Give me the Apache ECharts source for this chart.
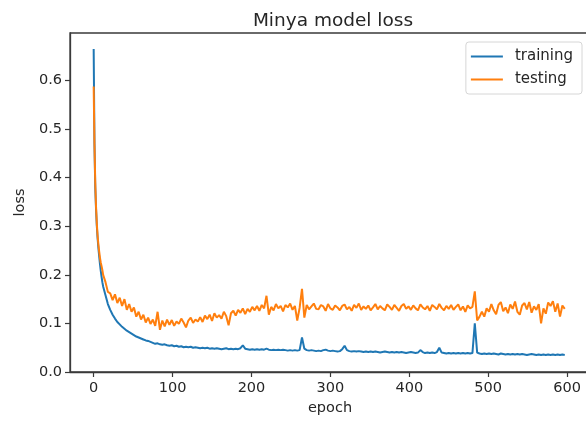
<!DOCTYPE html>
<html>
<head>
<meta charset="utf-8">
<script src="https://cdn.jsdelivr.net/npm/echarts@6/dist/echarts.min.js"></script>
<style>
html,body{margin:0;padding:0;background:#fff;}
#chart{width:586px;height:423px;}
</style>
</head>
<body>
<div id="chart"></div>
<script>
// ---- data ----
const title = 'Minya model loss';
const seriesNames = ['training', 'testing'];
const xTicks = [0, 100, 200, 300, 400, 500, 600];
const yTicks = [0.0, 0.1, 0.2, 0.3, 0.4, 0.5, 0.6];

// epochs 0..12 (every epoch)
const trainEarly = [0.665, 0.47, 0.38, 0.335, 0.30, 0.275, 0.255, 0.238, 0.222, 0.208, 0.196, 0.185, 0.176];
const testEarly  = [0.588, 0.47, 0.39, 0.34, 0.305, 0.28, 0.262, 0.248, 0.235, 0.225, 0.218, 0.21, 0.20];

// epochs 15, 18, 21 ... 597 (every 3rd epoch)
const trainLate = [
  0.158, 0.140, 0.128, 0.118, 0.110, 0.103, 0.098, 0.093, 0.089, 0.085,
  0.082, 0.079, 0.076, 0.073, 0.071, 0.069, 0.067, 0.065, 0.064, 0.062,
  0.060, 0.058, 0.059, 0.057, 0.056, 0.057, 0.055, 0.054, 0.055, 0.053,
  0.054, 0.052, 0.053, 0.051, 0.052, 0.051, 0.052, 0.050, 0.051, 0.050,
  0.049, 0.050, 0.049, 0.050, 0.048, 0.049, 0.048, 0.049, 0.048, 0.047,
  0.048, 0.049, 0.047, 0.048, 0.047, 0.048, 0.047, 0.049, 0.055, 0.048,
  0.047, 0.046, 0.047, 0.046, 0.047, 0.046, 0.047, 0.046, 0.048, 0.046,
  0.045, 0.046, 0.045, 0.046, 0.045, 0.046, 0.045, 0.044, 0.045, 0.044,
  0.045, 0.044, 0.045, 0.071, 0.048, 0.045, 0.044, 0.045, 0.044, 0.043,
  0.044, 0.043, 0.045, 0.046, 0.044, 0.043, 0.044, 0.043, 0.042, 0.043,
  0.047, 0.054, 0.045, 0.043, 0.042, 0.043, 0.042, 0.043, 0.042, 0.041,
  0.042, 0.041, 0.042, 0.041, 0.042, 0.041, 0.040, 0.041, 0.042, 0.041,
  0.040, 0.041, 0.040, 0.041, 0.040, 0.041, 0.040, 0.039, 0.040, 0.041,
  0.040, 0.039, 0.040, 0.045, 0.041, 0.039, 0.040, 0.039, 0.040, 0.039,
  0.041, 0.050, 0.040, 0.039, 0.038, 0.039, 0.038, 0.039, 0.038, 0.039,
  0.038, 0.039, 0.038, 0.039, 0.038, 0.039, 0.100, 0.040, 0.038, 0.037,
  0.038, 0.037, 0.038, 0.037, 0.038, 0.037, 0.036, 0.038, 0.037, 0.036,
  0.037, 0.036, 0.037, 0.036, 0.037, 0.036, 0.037, 0.036, 0.035, 0.036,
  0.037, 0.036, 0.035, 0.036, 0.035, 0.036, 0.035, 0.036, 0.035, 0.036,
  0.035, 0.036, 0.035, 0.036, 0.035
];
const testLate = [
  0.185, 0.165, 0.162, 0.148, 0.160, 0.142, 0.153, 0.136, 0.150, 0.128,
  0.140, 0.124, 0.133, 0.114, 0.124, 0.108, 0.118, 0.102, 0.112, 0.099,
  0.108, 0.095, 0.124, 0.087, 0.106, 0.094, 0.108, 0.097, 0.107, 0.095,
  0.104, 0.099, 0.110, 0.102, 0.092, 0.106, 0.112, 0.101, 0.108, 0.104,
  0.113, 0.103, 0.116, 0.109, 0.118, 0.105, 0.121, 0.112, 0.117, 0.110,
  0.124, 0.115, 0.096, 0.121, 0.126, 0.116, 0.128, 0.122, 0.131, 0.119,
  0.130, 0.124, 0.134, 0.127, 0.136, 0.126, 0.138, 0.131, 0.157, 0.118,
  0.134, 0.127, 0.140, 0.131, 0.136, 0.125, 0.138, 0.133, 0.141, 0.128,
  0.136, 0.106, 0.132, 0.171, 0.112, 0.138, 0.129, 0.135, 0.141, 0.130,
  0.129, 0.138, 0.135, 0.126, 0.140, 0.131, 0.128, 0.137, 0.133, 0.127,
  0.136, 0.139, 0.129, 0.134, 0.126, 0.138, 0.132, 0.141, 0.128, 0.135,
  0.130, 0.137, 0.127, 0.133, 0.140, 0.129, 0.136, 0.131, 0.127, 0.139,
  0.134, 0.128, 0.138, 0.132, 0.126, 0.136, 0.140, 0.130, 0.135, 0.128,
  0.137, 0.131, 0.127, 0.139, 0.133, 0.129, 0.136, 0.126, 0.138, 0.134,
  0.129, 0.140, 0.132, 0.127, 0.136, 0.130, 0.138, 0.128, 0.134, 0.139,
  0.127, 0.135, 0.124, 0.137, 0.131, 0.134, 0.166, 0.106, 0.114, 0.124,
  0.114, 0.131, 0.124, 0.140, 0.127, 0.119, 0.138, 0.144, 0.125, 0.133,
  0.121, 0.139, 0.130, 0.145, 0.124, 0.118, 0.137, 0.142, 0.129, 0.144,
  0.122, 0.135, 0.128, 0.140, 0.100, 0.131, 0.120, 0.143, 0.136, 0.146,
  0.124, 0.141, 0.114, 0.137, 0.130
];

// ---- build [epoch, value] pairs ----
function toPairs(early, late) {
  const out = [];
  early.forEach((v, i) => out.push([i, v]));
  late.forEach((v, i) => out.push([15 + 3 * i, v]));
  return out;
}
const trainData = toPairs(trainEarly, trainLate);
const testData = toPairs(testEarly, testLate);

const FONT = 'DejaVu Sans';
const TXT = '#262626';
const SPINE = '#3a3a3a';

const chart = echarts.init(document.getElementById('chart'), null, {renderer: 'canvas'});
chart.setOption({
  animation: false,
  backgroundColor: '#fff',
  title: {
    text: title,
    left: 328, textAlign: 'center',
    top: 7,
    textStyle: {fontFamily: FONT, fontSize: 18.5, fontWeight: 'normal', color: TXT}
  },
  legend: {
    data: seriesNames,
    orient: 'vertical',
    right: 4, top: 42,
    icon: 'rect',
    itemWidth: 32, itemHeight: 2,
    itemGap: 8,
    padding: [7, 9, 7, 5],
    borderColor: '#d6d6d6', borderWidth: 1, borderRadius: 3,
    backgroundColor: '#fff',
    textStyle: {fontFamily: FONT, fontSize: 15, color: TXT, padding: [0, 0, 0, 7]}
  },
  grid: {
    left: 70, top: 33, width: 520, bottom: 51,
    outerBoundsMode: 'none',
    containLabel: false,
    show: true, borderColor: SPINE, borderWidth: 1.3, backgroundColor: '#fff'
  },
  xAxis: {
    type: 'value',
    min: -30, max: 629,
    name: 'epoch', nameLocation: 'middle', nameGap: 29,
    nameTextStyle: {fontFamily: FONT, fontSize: 14.5, color: TXT},
    splitLine: {show: false},
    axisLine: {show: true, onZero: false, lineStyle: {color: SPINE, width: 1.3}},
    axisTick: {show: true, length: 5, customValues: xTicks, lineStyle: {color: SPINE, width: 1.2}},
    axisLabel: {customValues: xTicks, margin: 9, fontFamily: FONT, fontSize: 14.5, color: TXT}
  },
  yAxis: {
    type: 'value',
    min: 0, max: 0.698,
    name: 'loss', nameLocation: 'middle', nameGap: 42, nameRotate: 90,
    nameTextStyle: {fontFamily: FONT, fontSize: 14.5, color: TXT},
    splitLine: {show: false},
    axisLine: {show: true, onZero: false, lineStyle: {color: SPINE, width: 1.3}},
    axisTick: {show: true, length: 5, customValues: yTicks, lineStyle: {color: SPINE, width: 1.2}},
    axisLabel: {customValues: yTicks, margin: 8, fontFamily: FONT, fontSize: 14.5, color: TXT,
      formatter: v => v.toFixed(1)}
  },
  series: [
    {name: seriesNames[0], type: 'line', data: trainData, showSymbol: false, symbol: 'none',
     color: '#1f77b4', lineStyle: {width: 2, color: '#1f77b4'}},
    {name: seriesNames[1], type: 'line', data: testData, showSymbol: false, symbol: 'none',
     color: '#ff7f0e', lineStyle: {width: 2, color: '#ff7f0e'}}
  ]
});
</script>
</body>
</html>
